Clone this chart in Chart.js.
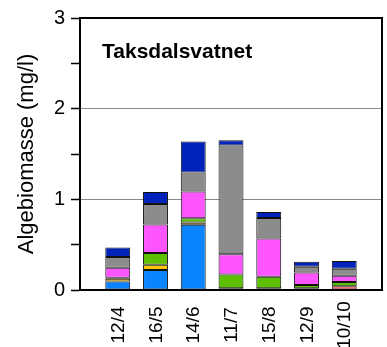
<!DOCTYPE html>
<html>
<head>
<meta charset="utf-8">
<script src="https://cdn.jsdelivr.net/npm/chart.js@4/dist/chart.umd.min.js"></script>
<style>
  html, body { margin: 0; padding: 0; background: #fff; }
  #wrap { width: 387px; height: 347px; position: relative; }
</style>
</head>
<body>
<div id="wrap"><canvas id="c" width="387" height="347"></canvas></div>
<script>
// Data (mg/l)
const dates     = ['12/4', '16/5', '14/6', '11/7', '15/8', '12/9', '10/10'];
const red       = [null,  null,  null,  null,  null,  null,  0.040];
const lightBlue = [0.095, 0.220, 0.720, 0.020, null,  0.020, null ];
const yellow    = [0.030, 0.058, 0.025, null,  0.020, null,  null ];
const green     = [0.010, 0.130, 0.045, 0.150, 0.125, 0.035, 0.048];
const magenta   = [0.110, 0.315, 0.297, 0.223, 0.422, 0.139, 0.069];
const gray      = [0.120, 0.226, 0.208, 1.200, 0.227, 0.062, 0.077];
const darkBlue  = [0.105, 0.132, 0.344, 0.060, 0.065, 0.055, 0.085];
const yLabels   = [0, 1, 2, 3];
const gridAt    = [1, 2];
const chartTitle = 'Taksdalsvatnet';
const yTitle = 'Algebiomasse (mg/l)';

const FONT = "'Liberation Sans', Arial, sans-serif";

function series(values, color) {
  return {
    data: values.map((v, i) => ({ x: i + 1, y: v })),
    backgroundColor: color,
    borderColor: '#111',
    borderWidth: 1,
    borderSkipped: false,
    barPercentage: 0.66,
    categoryPercentage: 1
  };
}

const framePlugin = {
  id: 'frame',
  afterDraw(chart) {
    const { ctx, chartArea: a } = chart;
    const xs = chart.scales.x;
    ctx.save();
    ctx.strokeStyle = '#000';
    ctx.lineWidth = 2;
    ctx.beginPath();
    ctx.moveTo(a.left, a.top);
    ctx.lineTo(a.right, a.top);
    ctx.lineTo(a.right, a.bottom);
    ctx.stroke();
    ctx.fillStyle = '#000';
    ctx.font = 'bold 21px ' + FONT;
    ctx.textAlign = 'left';
    ctx.textBaseline = 'alphabetic';
    ctx.fillText(chartTitle, a.left + 22, a.top + 40);
    // rotated category labels, centred under each bar
    ctx.font = '19px ' + FONT;
    ctx.textAlign = 'center';
    ctx.textBaseline = 'middle';
    dates.forEach((d, i) => {
      const px = xs.getPixelForValue(i + 1);
      ctx.save();
      ctx.translate(px + 1, a.bottom + 35);
      ctx.rotate(-Math.PI / 2);
      ctx.fillText(d, 0, 0);
      ctx.restore();
    });
    ctx.restore();
  }
};

new Chart(document.getElementById('c'), {
  type: 'bar',
  data: {
    datasets: [
      series(red, '#FF5555'),
      series(lightBlue, '#0A84FF'),
      series(yellow, '#FFC800'),
      series(green, '#5CBF00'),
      series(magenta, '#FF55FF'),
      series(gray, '#8C8C8C'),
      series(darkBlue, '#0022BB')
    ]
  },
  options: {
    responsive: false,
    animation: false,
    devicePixelRatio: 1,
    layout: { padding: { top: 17, right: 5, left: 0, bottom: 0 } },
    plugins: { legend: { display: false }, tooltip: { enabled: false }, title: { display: false } },
    scales: {
      x: {
        type: 'linear',
        stacked: true,
        offset: false,
        min: 0,
        max: dates.length + 1,
        grid: { display: false, drawTicks: false, offset: false },
        border: { display: true, color: '#000', width: 2 },
        ticks: { display: false, stepSize: 1 },
        afterFit: (s) => { s.height = 57; }
      },
      y: {
        stacked: true,
        min: 0,
        max: yLabels[yLabels.length - 1],
        grid: {
          color: (c) => gridAt.includes(c.tick.value) ? '#888' : 'rgba(0,0,0,0)',
          tickColor: '#000',
          tickLength: 9,
          tickWidth: 1.5,
          lineWidth: 1
        },
        border: { display: true, color: '#000', width: 2 },
        ticks: {
          stepSize: 0.5,
          autoSkip: false,
          padding: 6,
          color: '#000',
          font: { family: FONT, size: 20 },
          callback: (v) => yLabels.includes(v) ? String(v) : ''
        },
        title: {
          display: true,
          text: yTitle,
          color: '#000',
          font: { family: FONT, size: 22 },
          padding: { top: 14, bottom: 0 }
        },
        afterFit: (s) => { s.width = 80; }
      }
    }
  },
  plugins: [framePlugin]
});
</script>
</body>
</html>
